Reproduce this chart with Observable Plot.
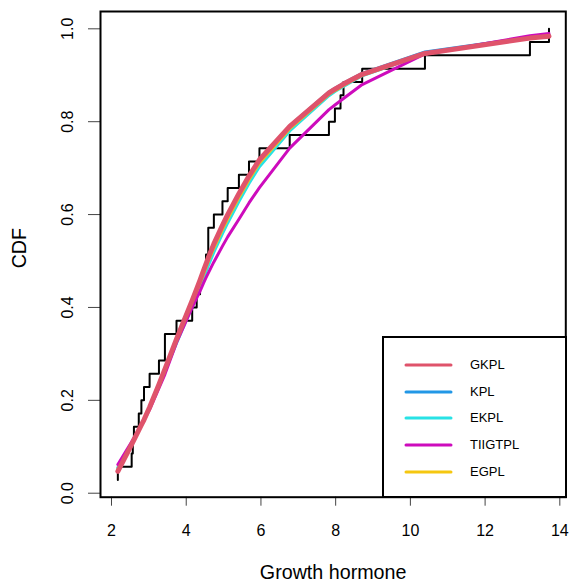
<!DOCTYPE html>
<html><head><meta charset="utf-8">
<script src="https://cdn.jsdelivr.net/npm/d3@7"></script>
<script src="https://cdn.jsdelivr.net/npm/@observablehq/plot@0.6"></script>
<style>
body{margin:0;background:#fff;font-family:"Liberation Sans",Arial,sans-serif;}
#wrap{position:relative;width:571px;height:583px;}
#legend{position:absolute;left:382px;top:336px;width:185px;height:162px;box-sizing:border-box;border:2px solid #000;background:#fff;}
.lg-row{position:absolute;left:0;height:20px;width:100%;}
.lg-row svg{position:absolute;left:20px;top:0;}
.lg-row span{position:absolute;left:86px;top:2px;font-size:13px;color:#000;line-height:16px;}
</style></head><body><div id="wrap"></div>
<script>
// Sorted growth hormone observations (read from the empirical CDF steps)
const growthHormone = [2.17,2.17,2.54,2.57,2.60,2.73,2.80,2.87,3.02,3.27,3.43,3.43,3.74,4.16,4.28,4.37,4.46,4.53,4.59,4.59,4.74,4.97,5.11,5.41,5.68,5.96,6.77,7.82,7.98,8.13,8.21,8.71,10.39,13.20,13.71];

// Points where fitted CDFs are evaluated (distinct observations)
const curveX = [2.17,2.54,2.57,2.60,2.73,2.80,2.87,3.02,3.27,3.43,3.74,4.16,4.28,4.37,4.46,4.53,4.59,4.74,4.97,5.11,5.41,5.68,5.96,6.77,7.82,7.98,8.13,8.21,8.71,10.39,13.20,13.71];

const gkpl    = [0.047,0.105,0.110,0.115,0.136,0.147,0.158,0.185,0.234,0.267,0.332,0.415,0.440,0.459,0.479,0.494,0.507,0.537,0.577,0.600,0.645,0.683,0.718,0.790,0.862,0.870,0.877,0.881,0.902,0.947,0.980,0.984];
const kpl     = [0.048,0.105,0.110,0.115,0.136,0.147,0.158,0.185,0.234,0.266,0.331,0.413,0.438,0.457,0.477,0.492,0.505,0.535,0.575,0.598,0.644,0.682,0.718,0.791,0.864,0.872,0.879,0.883,0.904,0.950,0.982,0.986];
const ekpl    = [0.055,0.108,0.112,0.117,0.137,0.147,0.158,0.184,0.231,0.262,0.323,0.403,0.426,0.444,0.463,0.477,0.490,0.519,0.559,0.582,0.628,0.667,0.703,0.780,0.856,0.865,0.872,0.876,0.899,0.946,0.982,0.986];
const tiigtpl = [0.062,0.111,0.115,0.119,0.137,0.147,0.157,0.180,0.226,0.256,0.324,0.400,0.420,0.435,0.452,0.464,0.474,0.498,0.532,0.552,0.590,0.625,0.658,0.743,0.826,0.836,0.845,0.850,0.880,0.946,0.985,0.990];
const egpl    = [0.051,0.106,0.111,0.116,0.136,0.147,0.158,0.185,0.233,0.265,0.328,0.409,0.433,0.452,0.471,0.486,0.499,0.528,0.568,0.591,0.637,0.675,0.711,0.785,0.859,0.867,0.874,0.878,0.900,0.946,0.981,0.985];

const seriesNames  = ["GKPL","KPL","EKPL","TIIGTPL","EGPL"];
const seriesColors = ["#DF536B","#2297E6","#28E2E5","#CD0BBC","#F5C710"];
const seriesValues = [gkpl, kpl, ekpl, tiigtpl, egpl];
const drawOrder = ["KPL","EKPL","EGPL","TIIGTPL","GKPL"];

const xTicks = [2,4,6,8,10,12,14];
const yTicks = [0,0.2,0.4,0.6,0.8,1.0];

const n = growthHormone.length;
const ecdfRows = growthHormone.map((v,i) => ({x:v, y:(i+1)/n}));

const curveMarks = drawOrder.map(name => {
  const k = seriesNames.indexOf(name);
  const rows = curveX.map((x,i) => ({x, y: seriesValues[k][i]}));
  return Plot.line(rows, {x:"x", y:"y", stroke: seriesColors[k], strokeWidth: name === "GKPL" ? 5 : 3, strokeLinecap:"round"});
});

const chart = Plot.plot({
  width: 571, height: 583,
  marginLeft: 100, marginRight: 5.7, marginTop: 11, marginBottom: 86.3,
  x: {domain: [1.7056, 14.16]},
  y: {domain: [-0.0086, 1.0373]},
  style: {fontFamily: "'Liberation Sans', Arial, sans-serif", background: "white", color: "black", overflow: "visible"},
  marks: [
    Plot.axisX({ticks: xTicks, tickSize: 9, tickPadding: 18, fontSize: 16, label: null, tickFormat: d => String(d), stroke: "#444"}),
    Plot.axisY({ticks: yTicks, tickSize: 12, tickRotate: -90, tickPadding: 16, fontSize: 16, label: null, tickFormat: d3.format(".1f"), stroke: "#444"}),
    Plot.line(ecdfRows, {x:"x", y:"y", curve:"step-after", stroke:"black", strokeWidth:2}),
    ...curveMarks,
    Plot.frame({stroke:"black", strokeWidth:2}),
    Plot.text(["Growth hormone"], {text: d => d, frameAnchor:"bottom", dy: 82, lineAnchor:"bottom", fontSize:19.7}),
    Plot.text(["CDF"], {text: d => d, frameAnchor:"left", dx:-75, dy: 14, rotate:-90, lineAnchor:"bottom", fontSize:19.7})
  ]
});
const wrap = document.getElementById("wrap");
wrap.appendChild(chart);

// Legend inside the plot area
const legend = document.createElement("div");
legend.id = "legend";
seriesNames.forEach((name,i) => {
  const row = document.createElement("div");
  row.className = "lg-row";
  row.style.top = (16.6 + i*26.9) + "px";
  row.innerHTML = `<svg width="50" height="20"><line x1="2" y1="10" x2="47" y2="10" stroke="${seriesColors[i]}" stroke-width="3" stroke-linecap="round"/></svg><span>${name}</span>`;
  legend.appendChild(row);
});
wrap.appendChild(legend);
</script>
</body></html>
